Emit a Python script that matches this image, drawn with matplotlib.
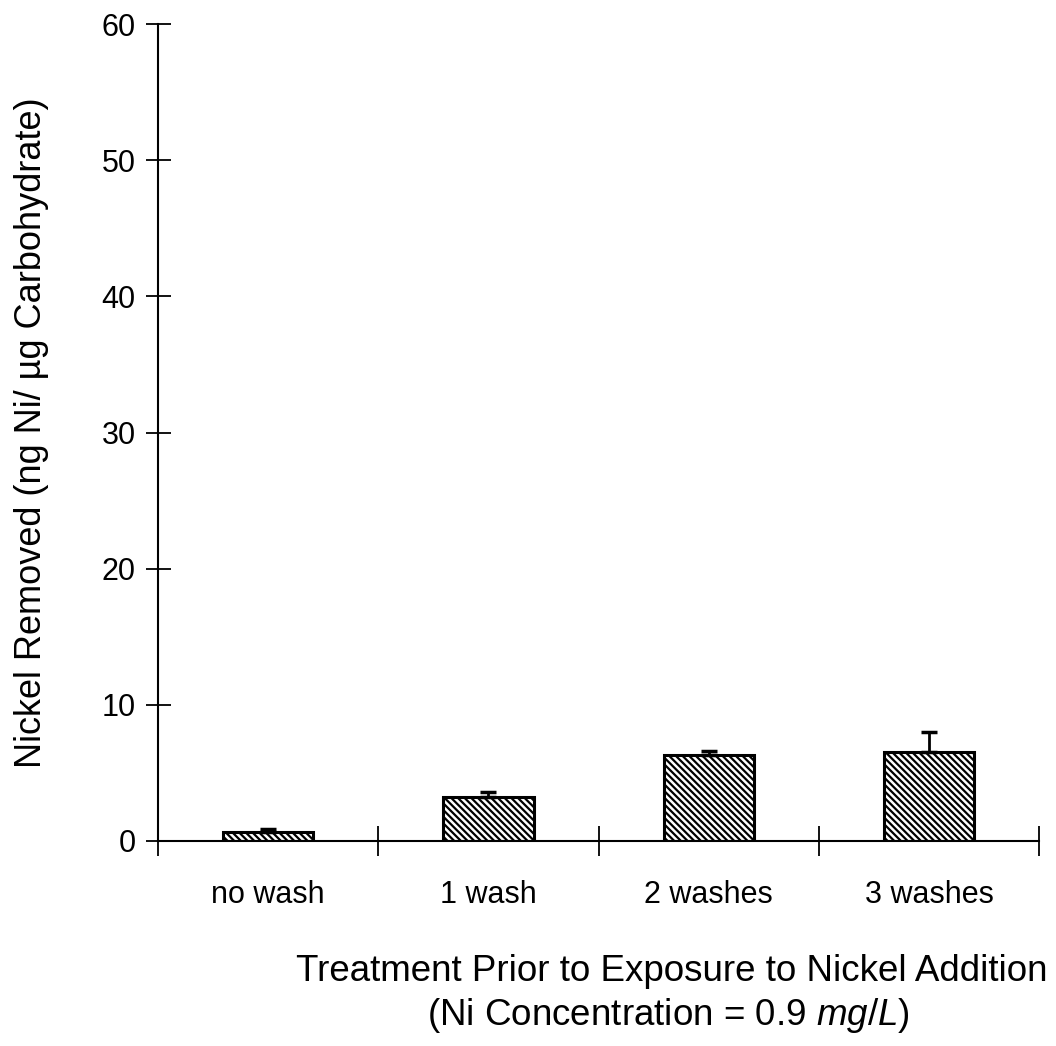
import matplotlib
matplotlib.use("Agg")
import matplotlib.pyplot as plt
import numpy as np

plt.rcParams["font.family"] = ["Liberation Sans", "DejaVu Sans"]
plt.rcParams["mathtext.fontset"] = "custom"
plt.rcParams["mathtext.rm"] = "Liberation Sans"
plt.rcParams["mathtext.it"] = "Liberation Sans:italic"
plt.rcParams["hatch.linewidth"] = 1.6

categories = ["no wash", "1 wash", "2 washes", "3 washes"]
nickel_removed = [0.65, 3.2, 6.3, 6.5]
err_upper = [0.2, 0.4, 0.3, 1.5]

fig = plt.figure(figsize=(10.56, 10.46), dpi=100)
ax = fig.add_axes([0.1496, 0.196, 0.8344, 0.781])

x = np.arange(len(categories))
ax.bar(x, nickel_removed, width=0.41, color="white", edgecolor="black",
       linewidth=2.2, hatch="\\" * 5, zorder=2)
ax.errorbar(x, nickel_removed, yerr=[[0] * len(x), err_upper], fmt="none",
            ecolor="black", elinewidth=2, capsize=6, capthick=2.5, zorder=3)

ax.set_xlim(-0.5, 3.5)
ax.set_ylim(0, 60)
ax.set_yticks(range(0, 61, 10))
ax.set_xticks(np.arange(-0.5, 4, 1))
ax.set_xticklabels([])
ax.set_xticks(x, minor=True)
ax.set_xticklabels(categories, minor=True, fontsize=22)
ax.tick_params(axis="x", which="major", direction="inout", length=22, width=1.3)
ax.tick_params(axis="x", which="minor", length=0, pad=28)
ax.tick_params(axis="y", direction="inout", length=18, width=1.3, labelsize=22, pad=7)

for side in ["top", "right"]:
    ax.spines[side].set_visible(False)
for side in ["left", "bottom"]:
    ax.spines[side].set_linewidth(1.5)

ax.set_ylabel("Nickel Removed (ng Ni/ \u00b5g Carbohydrate)", fontsize=26, labelpad=38)

fig.text(0.636, 0.071, "Treatment Prior to Exposure to Nickel Addition",
         ha="center", va="center", fontsize=26.5)
fig.text(0.633, 0.029, r"(Ni Concentration = 0.9 $\mathit{mg/L}$)",
         ha="center", va="center", fontsize=26.5)

fig.savefig("out.png", dpi=100)
plt.close(fig)
